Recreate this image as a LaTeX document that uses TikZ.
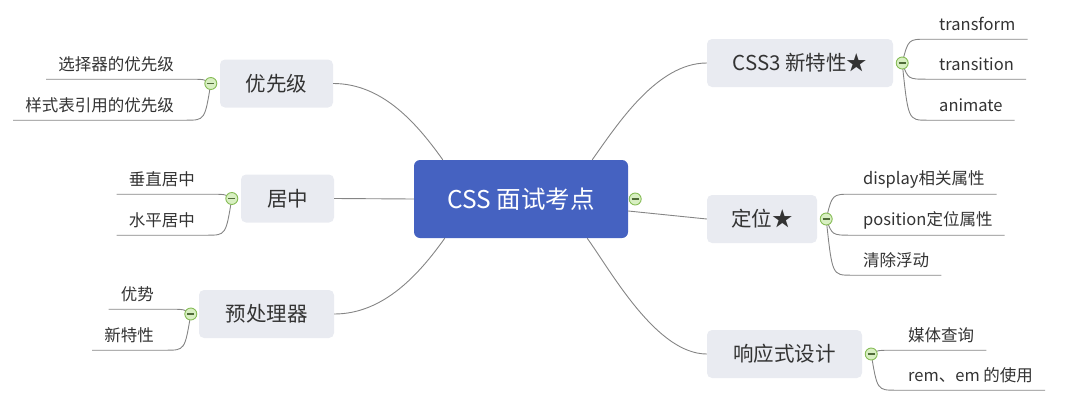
\documentclass[tikz,border=0pt]{standalone}
\usepackage{fontspec}
\setmainfont{Noto Sans CJK SC}
\usetikzlibrary{calc}
\definecolor{cblue}{HTML}{4562C1}
\definecolor{subfill}{HTML}{E9EBF1}
\definecolor{txt}{HTML}{333333}
\definecolor{linec}{HTML}{858585}
\definecolor{iconfill}{HTML}{D8EFC2}
\definecolor{icondraw}{HTML}{86BC56}
\definecolor{iconminus}{HTML}{4F6B38}
\begin{document}
\begin{tikzpicture}[x=1pt,y=-1pt,
  central/.style={fill=cblue, rounded corners=6pt, text=white, minimum width=214pt, minimum height=78pt, inner sep=0pt, font=\fontsize{24.5}{28}\selectfont},
  sub/.style={fill=subfill, rounded corners=5pt, text=txt, minimum height=48pt, inner sep=0pt, font=\fontsize{20.5}{24}\selectfont},
  leaf/.style={inner xsep=12pt, inner ysep=0pt, minimum height=30pt, text=txt, font=\fontsize{16.5}{20}\selectfont},
  conn/.style={draw=linec, line width=0.9pt},
  icon/.style={circle, draw=icondraw, fill=iconfill, line width=0.9pt, minimum size=12pt, inner sep=0pt,
    path picture={\draw[iconminus, line width=1.1pt] ([xshift=-3.5pt]path picture bounding box.center) -- ([xshift=3.5pt]path picture bounding box.center);}}
]
\useasboundingbox (0,0) rectangle (1087,407);

% central and main topics
\node[central] (C) at (521,199) {CSS 面试考点};
\node[sub, minimum width=113pt] (A) at (276.5,83.5) {优先级};
\node[sub, minimum width=93pt] (B) at (287.5,198.5) {居中};
\node[sub, minimum width=135pt] (P) at (266.5,314) {预处理器};
\node[sub, minimum width=186pt] (S) at (800,63) {CSS3 新特性★};
\node[sub, minimum width=110pt] (D) at (762,219) {定位★};
\node[sub, minimum width=155pt] (R) at (784.5,354) {响应式设计};

% collapse icon positions
\coordinate (iC) at ($(C.east)+(7,0)$);
\coordinate (iA) at ($(A.west)+(-9,0)$);
\coordinate (iB) at ($(B.west)+(-9,0)$);
\coordinate (iP) at ($(P.west)+(-8,0)$);
\coordinate (iS) at ($(S.east)+(9,0)$);
\coordinate (iD) at ($(D.east)+(9,0)$);
\coordinate (iR) at ($(R.east)+(9,0)$);

% leaves
\node[leaf, anchor=west] (s1) at (927,24) {transform};
\node[leaf, anchor=west] (s2) at (927,64) {transition};
\node[leaf, anchor=west] (s3) at (927,105) {animate};
\node[leaf, anchor=west] (d1) at (851,179) {display相关属性};
\node[leaf, anchor=west] (d2) at (851,220) {position定位属性};
\node[leaf, anchor=west] (d3) at (851,260) {清除浮动};
\node[leaf, anchor=west] (r1) at (896,335) {媒体查询};
\node[leaf, anchor=west] (r2) at (896,375) {rem、em 的使用};
\node[leaf, anchor=east] (a1) at (186,64) {选择器的优先级};
\node[leaf, anchor=east] (a2) at (186,105) {样式表引用的优先级};
\node[leaf, anchor=east] (b1) at (207,179) {垂直居中};
\node[leaf, anchor=east] (b2) at (207,220) {水平居中};
\node[leaf, anchor=east] (p1) at (166,294) {优势};
\node[leaf, anchor=east] (p2) at (166,335) {新特性};

% main connectors
\draw[conn] (A.east) .. controls +(50,0) and +(-25,-35) .. ($(C.north west)+(29,0)$);
\draw[conn] (B.east) -- (C.west);
\draw[conn] (P.east) .. controls +(50,0) and +(-25,35) .. ($(C.south west)+(31,0)$);
\draw[conn] ($(C.north east)+(-36,0)$) .. controls +(25,-35) and +(-50,0) .. (S.west);
\draw[conn] ($(C.east)+(0,12)$) -- (D.west);
\draw[conn] ($(C.south east)+(-41,0)$) .. controls +(25,35) and +(-50,0) .. (R.west);

% leaf connectors, right side
\foreach \ic/\lf in {iS/s1,iS/s2,iS/s3,iD/d1,iD/d2,iD/d3,iR/r1,iR/r2}{
  \draw[conn] (\ic) .. controls ($(\ic |- \lf.south)+(6,0)$) .. (\lf.south west) -- (\lf.south east);
}
% leaf connectors, left side
\foreach \ic/\lf in {iA/a1,iA/a2,iB/b1,iB/b2,iP/p1,iP/p2}{
  \draw[conn] (\ic) .. controls ($(\ic |- \lf.south)+(-6,0)$) .. (\lf.south east) -- (\lf.south west);
}

% icons
\foreach \ic in {iC,iA,iB,iP,iS,iD,iR}{
  \node[icon] (n\ic) at (\ic) {};
}
\end{tikzpicture}
\end{document}
